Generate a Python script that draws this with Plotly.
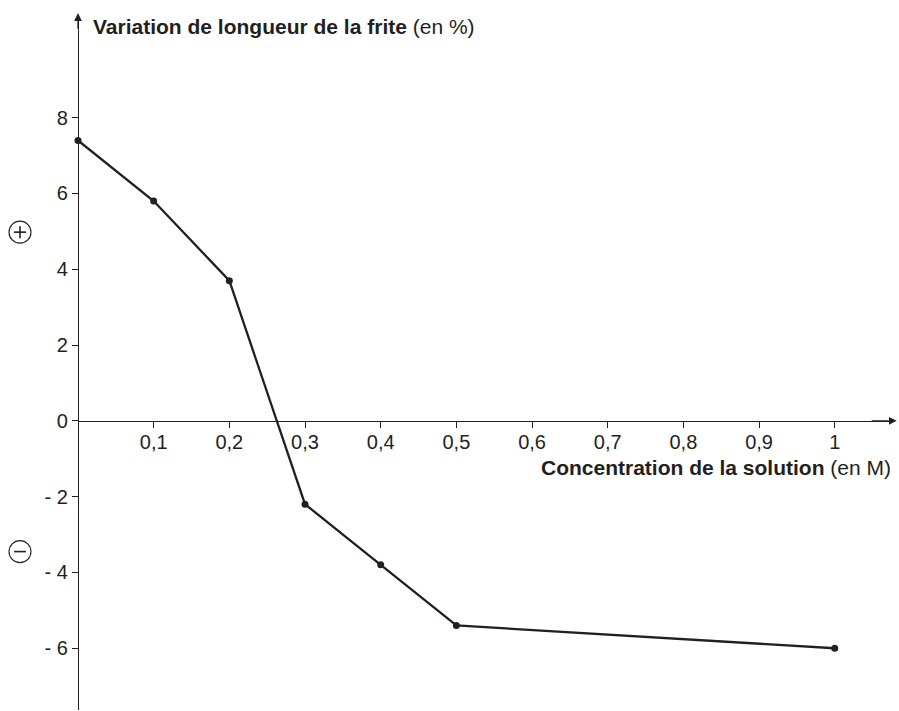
import plotly.graph_objects as go

# Concentration categories, evenly spaced along the horizontal axis
conc_labels = ["0", "0,1", "0,2", "0,3", "0,4", "0,5", "0,6", "0,7", "0,8", "0,9", "1"]
conc_pos = list(range(len(conc_labels)))

# Measured points: position index on the axis and length variation (%)
meas_pos = [0, 1, 2, 3, 4, 5, 10]
meas_var = [7.4, 5.8, 3.7, -2.2, -3.8, -5.4, -6.0]

# Vertical tick values and labels
y_ticks = [8, 6, 4, 2, 0, -2, -4, -6]
y_tick_text = ["8", "6", "4", "2", "0", "- 2", "- 4", "- 6"]

INK = "#231f20"
FONT = "Liberation Sans, Arial, sans-serif"

W, H = 899, 711
ML, MR, MT, MB = 78, 6, 15, 1
X_RANGE = [0, 10.77]
Y_RANGE = [-7.63, 10.71]

fig = go.Figure()
fig.add_trace(go.Scatter(
    x=meas_pos, y=meas_var, mode="lines+markers",
    line=dict(color=INK, width=2.3),
    marker=dict(color=INK, size=7),
    showlegend=False, cliponaxis=False,
))

# horizontal axis crosses the vertical one at zero
x_axis_pos = (0 - Y_RANGE[0]) / (Y_RANGE[1] - Y_RANGE[0])

fig.update_layout(
    width=W, height=H,
    margin=dict(l=ML, r=MR, t=MT, b=MB),
    paper_bgcolor="white", plot_bgcolor="white",
    font=dict(family=FONT, color=INK),
    xaxis=dict(
        range=X_RANGE, anchor="free", position=x_axis_pos,
        showline=True, linecolor=INK, linewidth=1.3,
        showgrid=False, zeroline=False,
        ticks="outside", ticklen=6, tickwidth=1, tickcolor=INK,
        ticklabelstandoff=-3,
        tickvals=conc_pos[1:], ticktext=conc_labels[1:],
        tickfont=dict(size=20, color=INK, family=FONT),
    ),
    yaxis=dict(
        range=Y_RANGE, anchor="free", position=0,
        showline=True, linecolor=INK, linewidth=1.3,
        showgrid=False, zeroline=False,
        ticks="outside", ticklen=6, tickwidth=1, tickcolor=INK,
        tickvals=y_ticks, ticktext=y_tick_text,
        tickfont=dict(size=20, color=INK, family=FONT),
    ),
)

annotations = [
    # arrowheads at the ends of the axes
    dict(x=0, y=Y_RANGE[1] + 0.05, ax=0, ay=Y_RANGE[1] - 0.4, xref="x", yref="y",
         axref="x", ayref="y", showarrow=True, arrowhead=2, arrowsize=1.2,
         arrowwidth=1.3, arrowcolor=INK, text=""),
    dict(x=X_RANGE[1] + 0.05, y=0, ax=X_RANGE[1] - 0.3, ay=0, xref="x", yref="y",
         axref="x", ayref="y", showarrow=True, arrowhead=2, arrowsize=1.2,
         arrowwidth=1.3, arrowcolor=INK, text=""),
    # axis titles
    dict(x=0.17, y=10.4, xref="x", yref="y", xanchor="left", yanchor="middle",
         showarrow=False, font=dict(size=21, family=FONT, color=INK),
         text="<b>Variation de longueur de la frite</b> (en %)"),
    dict(x=X_RANGE[1], y=-1.22, xref="x", yref="y", xanchor="right", yanchor="middle",
         showarrow=False, font=dict(size=21, family=FONT, color=INK),
         text="<b>Concentration de la solution</b> (en M)"),
]
fig.update_layout(annotations=annotations)

# circled plus / minus signs beside the vertical axis
shapes = []
for yc, sign in [(4.98, "+"), (-3.45, "-")]:
    xc = -58 / (W - ML - MR)
    shapes.append(dict(type="circle", xref="paper", yref="y",
                       xsizemode="pixel", ysizemode="pixel",
                       xanchor=xc, yanchor=yc, x0=-11, x1=11, y0=-11, y1=11,
                       line=dict(color=INK, width=1.1)))
    shapes.append(dict(type="line", xref="paper", yref="y",
                       xsizemode="pixel", ysizemode="pixel",
                       xanchor=xc, yanchor=yc, x0=-6, x1=6, y0=0, y1=0,
                       line=dict(color=INK, width=1.6)))
    if sign == "+":
        shapes.append(dict(type="line", xref="paper", yref="y",
                           xsizemode="pixel", ysizemode="pixel",
                           xanchor=xc, yanchor=yc, x0=0, x1=0, y0=-6, y1=6,
                           line=dict(color=INK, width=1.6)))
fig.update_layout(shapes=shapes)

fig.write_html("out.html")
